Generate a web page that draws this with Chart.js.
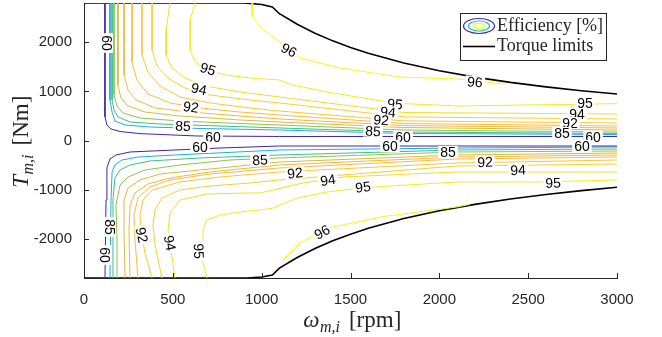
<!DOCTYPE html>
<html>
<head>
<meta charset="utf-8">
<title>Efficiency map</title>
<script src="https://cdn.jsdelivr.net/npm/chart.js@4.4.1/dist/chart.umd.min.js"></script>
<style>
  html, body { margin: 0; padding: 0; background: #fff; }
</style>
</head>
<body>
<canvas id="effMap" width="662" height="337"></canvas>
<script>
// axis ticks
const speedTicks = [0, 500, 1000, 1500, 2000, 2500, 3000];
const torqueTicks = [-2000, -1000, 0, 1000, 2000];

// torque limits [rpm, Nm]
const torqueMax = [[0,2800],[900,2800],[1000,2770],[1060,2720],[1100,2582],[1200,2367],[1300,2185],[1400,2029],[1500,1893],[1600,1775],[1800,1578],[2000,1420],[2200,1291],[2400,1183],[2600,1092],[2800,1014],[3000,947]];
const torqueMin = [[0,-2800],[920,-2800],[1000,-2780],[1060,-2740],[1100,-2600],[1200,-2383],[1300,-2200],[1400,-2043],[1500,-1907],[1600,-1788],[1800,-1589],[2000,-1430],[2200,-1300],[2400,-1192],[2600,-1100],[2800,-1021],[3000,-953]];

// efficiency contours, motoring side (T > 0)
const eff60Up = [[118,2800],[118,479],[129,316],[152,234],[203,183],[315,140],[636,92],[1100,82],[1800,82],[3000,82]];
const eff80Up = [[146,2800],[146,825],[158,580],[174,397],[231,316],[371,275],[653,245],[1100,214],[1800,143],[3000,122]];
const eff85Up = [[158,2800],[158,825],[169,621],[191,479],[259,377],[428,336],[766,295],[1100,255],[1800,173],[3000,143]];
const eff87Up = [[169,2800],[169,927],[186,703],[220,560],[315,458],[540,397],[878,346],[1100,316],[1800,214],[3000,173]];
const eff89Up = [[191,2800],[191,1130],[208,865],[248,703],[343,580],[540,499],[878,418],[1100,377],[1800,265],[3000,214]];
const eff90Up = [[225,2800],[225,1334],[248,1028],[293,825],[400,662],[597,580],[878,499],[1100,438],[1800,305],[3000,255]];
const eff91Up = [[270,2800],[270,1599],[298,1232],[360,947],[484,764],[653,662],[878,580],[1100,519],[1800,346],[3000,295]];
const eff92Up = [[326,2800],[326,1741],[360,1395],[428,1110],[540,886],[709,764],[934,662],[1100,601],[1800,400],[3000,356]];
const eff93Up = [[383,2800],[383,1843],[411,1517],[473,1273],[568,1069],[709,927],[934,825],[1100,764],[1800,480],[3000,438]];
const eff94Up = [[484,2800],[462,2250],[462,1741],[495,1476],[568,1273],[681,1110],[878,988],[1100,886],[1800,570],[3000,540]];
const eff95Up = [[625,2800],[597,2454],[597,1843],[625,1599],[681,1456],[794,1334],[934,1273],[1100,1232],[1176,1130],[1368,988],[1750,760],[2100,703],[3000,750]];
const eff96Up = [[951,2800],[946,2535],[991,2311],[1100,2006],[1216,1680],[1441,1476],[1779,1293],[2100,1252],[2370,1150]];

// efficiency contours, generating side (T < 0)
const eff60Dn = [[118,-2800],[124,-1212],[129,-560],[146,-377],[180,-295],[259,-234],[512,-193],[766,-153],[1100,-112],[2100,-112],[3000,-112]];
const eff80Dn = [[146,-2800],[152,-1212],[158,-641],[174,-499],[214,-397],[304,-336],[512,-295],[1100,-193],[2100,-153],[3000,-132]];
const eff85Dn = [[158,-2800],[163,-1212],[174,-764],[203,-601],[259,-499],[371,-417],[653,-356],[1100,-295],[2100,-193],[3000,-173]];
const eff87Dn = [[191,-2800],[186,-2026],[180,-1313],[203,-906],[248,-743],[343,-601],[540,-499],[822,-397],[1100,-356],[2100,-234],[3000,-214]];
const eff89Dn = [[231,-2800],[225,-1823],[225,-1212],[248,-967],[315,-804],[428,-682],[653,-601],[1100,-438],[2100,-295],[3000,-255]];
const eff90Dn = [[259,-2800],[253,-1823],[259,-1313],[287,-1069],[360,-886],[484,-764],[709,-641],[1100,-499],[2100,-336],[3000,-295]];
const eff91Dn = [[304,-2800],[287,-2026],[281,-1517],[304,-1171],[371,-947],[484,-804],[709,-682],[1100,-560],[2100,-377],[3000,-336]];
const eff92Dn = [[383,-2800],[343,-2291],[321,-1823],[315,-1517],[332,-1212],[383,-1008],[540,-845],[766,-743],[1100,-641],[2100,-458],[3000,-397]];
const eff93Dn = [[439,-2800],[400,-2128],[388,-1721],[400,-1415],[439,-1171],[540,-1008],[709,-927],[934,-865],[1100,-804],[2100,-519],[3000,-479]];
const eff94Dn = [[512,-2800],[495,-2372],[484,-2087],[473,-1823],[484,-1476],[540,-1212],[692,-1089],[917,-1069],[991,-1069],[1233,-865],[1458,-743],[2100,-641],[3000,-641]];
const eff95Dn = [[692,-2800],[670,-2495],[670,-1823],[692,-1619],[766,-1517],[917,-1436],[991,-1415],[1064,-1375],[1199,-1171],[1368,-1049],[1570,-960],[2100,-845],[2567,-845],[3000,-804]];
const eff96Dn = [[1120,-2433],[1216,-2087],[1340,-1863],[1401,-1761],[1649,-1578],[1666,-1558],[2100,-1354],[2173,-1300]];

// contour labels: text, rpm, Nm, rotation (deg)
const contourLabels = [
  ['60', 129, 1985, 90], ['95', 698, 1456, 18], ['94', 647, 1049, 12], ['92', 602, 682, 8],
  ['85', 557, 295, 3], ['60', 726, 71, 0], ['60', 653, -132, 0], ['96', 1154, 1843, 28],
  ['95', 1750, 743, 6], ['94', 1711, 580, 6], ['92', 1672, 417, 5], ['85', 1627, 193, 3],
  ['60', 1796, 71, 0], ['60', 1722, -112, 0], ['96', 2201, 1191, 5], ['95', 2820, 764, 0],
  ['94', 2775, 540, 0], ['92', 2735, 356, 0], ['85', 2690, 153, 0], ['60', 2865, 71, 0],
  ['60', 2803, -112, 0], ['85', 991, -397, -3], ['92', 1188, -662, -6], ['94', 1373, -804, -8],
  ['95', 1570, -947, -6], ['96', 1340, -1863, -28], ['85', 2049, -234, 0], ['92', 2257, -438, -2],
  ['94', 2443, -601, -2], ['95', 2640, -865, -2], ['85', 146, -1761, 90], ['60', 118, -2332, 90],
  ['92', 326, -1925, 78], ['94', 484, -2087, 80], ['95', 647, -2250, 88]
];

const levelColors = {
  60: '#3e26a8', 80: '#1eaee0', 85: '#3cbf8c', 87: '#8fc248', 89: '#d6bb3e', 90: '#f2b83c',
  91: '#fabb3d', 92: '#fcc536', 93: '#f6d02e', 94: '#f2dd27', 95: '#f5ea1c', 96: '#f8f614'
};

const contours = [
  [60, eff60Up], [80, eff80Up], [85, eff85Up], [87, eff87Up], [89, eff89Up], [90, eff90Up],
  [91, eff91Up], [92, eff92Up], [93, eff93Up], [94, eff94Up], [95, eff95Up], [96, eff96Up],
  [60, eff60Dn], [80, eff80Dn], [85, eff85Dn], [87, eff87Dn], [89, eff89Dn], [90, eff90Dn],
  [91, eff91Dn], [92, eff92Dn], [93, eff93Dn], [94, eff94Dn], [95, eff95Dn], [96, eff96Dn]
];

const toXY = pts => pts.map(([x, y]) => ({ x, y }));

const datasets = contours.map(([lvl, pts]) => ({
    label: 'eta ' + lvl,
    data: toXY(pts),
    showLine: true,
    borderColor: levelColors[lvl],
    borderWidth: 1,
    pointRadius: 0,
    tension: 0
}));
[torqueMax, torqueMin].forEach(pts => datasets.push({
    label: 'Torque limits',
    data: toXY(pts),
    showLine: true,
    borderColor: '#000',
    borderWidth: 1.6,
    pointRadius: 0,
    tension: 0
}));

const axisColor = '#262626';
const sansFont = '"Liberation Sans", Arial, sans-serif';
const serifFont = '"Liberation Serif", "DejaVu Serif", serif';

// inward tick marks like the original figure
const tickMarks = {
    id: 'tickMarks',
    afterDraw(chart) {
        const { ctx, chartArea: a, scales: { x, y } } = chart;
        ctx.save();
        ctx.strokeStyle = axisColor;
        ctx.lineWidth = 1;
        ctx.beginPath();
        speedTicks.forEach(v => {
            const px = Math.round(x.getPixelForValue(v)) + 0.5;
            ctx.moveTo(px, a.bottom);
            ctx.lineTo(px, a.bottom - 5);
        });
        torqueTicks.forEach(v => {
            const py = Math.round(y.getPixelForValue(v)) + 0.5;
            ctx.moveTo(a.left, py);
            ctx.lineTo(a.left + 5, py);
        });
        ctx.stroke();
        ctx.restore();
    }
};

const contourText = {
    id: 'contourText',
    afterDatasetsDraw(chart) {
        const { ctx, scales: { x, y } } = chart;
        ctx.save();
        ctx.font = '14px ' + sansFont;
        ctx.textAlign = 'center';
        ctx.textBaseline = 'middle';
        contourLabels.forEach(([txt, w, t, ang]) => {
            ctx.save();
            ctx.translate(x.getPixelForValue(w), y.getPixelForValue(t));
            ctx.rotate(ang * Math.PI / 180);
            const tw = ctx.measureText(txt).width;
            ctx.fillStyle = '#fff';
            ctx.fillRect(-tw / 2 - 2, -6, tw + 4, 12);
            ctx.fillStyle = '#000';
            ctx.fillText(txt, 0, 1);
            ctx.restore();
        });
        ctx.restore();
    }
};

// symbol with subscript followed by a unit, centred on (cx, baseline cy)
function mathLabel(ctx, cx, cy, sym, sub, unit) {
    const big = '23px ' + serifFont;
    const small = 'italic 16px ' + serifFont;
    ctx.font = 'italic ' + big;
    const w1 = ctx.measureText(sym).width;
    ctx.font = small;
    const w2 = ctx.measureText(sub).width;
    ctx.font = big;
    const w3 = ctx.measureText(unit).width;
    const gap = 9;
    let x0 = cx - (w1 + w2 + gap + w3) / 2;
    ctx.textAlign = 'left';
    ctx.textBaseline = 'alphabetic';
    ctx.font = 'italic ' + big;
    ctx.fillText(sym, x0, cy);
    x0 += w1 + 0.5;
    ctx.font = small;
    ctx.fillText(sub, x0, cy + 5);
    x0 += w2 + gap;
    ctx.font = big;
    ctx.fillText(unit, x0, cy);
}

const axisTitles = {
    id: 'axisTitles',
    afterDraw(chart) {
        const { ctx } = chart;
        ctx.save();
        ctx.fillStyle = axisColor;
        mathLabel(ctx, 352, 327, '\u03c9', 'm,i', '[rpm]');
        ctx.translate(20, 142);
        ctx.rotate(-Math.PI / 2);
        mathLabel(ctx, 0, 8, 'T', 'm,i', '[Nm]');
        ctx.restore();
    }
};

const legendBox = {
    id: 'legendBox',
    afterDraw(chart) {
        const { ctx } = chart;
        ctx.save();
        ctx.fillStyle = '#fff';
        ctx.fillRect(460.5, 13.5, 146, 47);
        ctx.strokeStyle = axisColor;
        ctx.lineWidth = 1;
        ctx.strokeRect(460.5, 13.5, 146, 47);
        // contour icon
        [[15.5, 7.5, levelColors[60]], [10.5, 5, '#1fb7c8'], [5.5, 2.6, levelColors[96]]].forEach(([rx, ry, c]) => {
            ctx.beginPath();
            ctx.ellipse(479, 26, rx, ry, 0, 0, Math.PI * 2);
            ctx.strokeStyle = c;
            ctx.lineWidth = 1.2;
            ctx.stroke();
        });
        ctx.beginPath();
        ctx.moveTo(463, 46.5);
        ctx.lineTo(495, 46.5);
        ctx.strokeStyle = '#000';
        ctx.lineWidth = 1.6;
        ctx.stroke();
        ctx.fillStyle = axisColor;
        ctx.font = '18px ' + serifFont;
        ctx.textAlign = 'left';
        ctx.textBaseline = 'middle';
        ctx.fillText('Efficiency [%]', 497, 26);
        ctx.fillText('Torque limits', 497, 46);
        ctx.restore();
    }
};

new Chart(document.getElementById('effMap'), {
    type: 'scatter',
    data: { datasets },
    options: {
        responsive: false,
        devicePixelRatio: 1,
        animation: false,
        events: [],
        layout: { padding: { left: 0, right: 45, top: 3, bottom: 0 } },
        plugins: {
            legend: { display: false },
            tooltip: { enabled: false }
        },
        scales: {
            x: {
                type: 'linear',
                min: 0,
                max: 3000,
                afterBuildTicks: s => { s.ticks = speedTicks.map(v => ({ value: v })); },
                afterFit: s => { s.height = 59; s.paddingLeft = 0; s.paddingRight = 0; },
                grid: { display: false },
                border: { display: true, color: axisColor, width: 1 },
                ticks: {
                    color: axisColor,
                    padding: 5,
                    maxRotation: 0,
                    font: { family: sansFont, size: 15 },
                    callback: v => String(v)
                }
            },
            y: {
                type: 'linear',
                min: -2800,
                max: 2800,
                afterBuildTicks: s => { s.ticks = torqueTicks.map(v => ({ value: v })); },
                afterFit: s => { s.width = 84; s.paddingTop = 0; s.paddingBottom = 0; },
                grid: { display: false },
                border: { display: true, color: axisColor, width: 1 },
                ticks: {
                    color: axisColor,
                    padding: 4,
                    font: { family: sansFont, size: 15 },
                    callback: v => String(v)
                }
            }
        }
    },
    plugins: [contourText, tickMarks, axisTitles, legendBox]
});
</script>
</body>
</html>
